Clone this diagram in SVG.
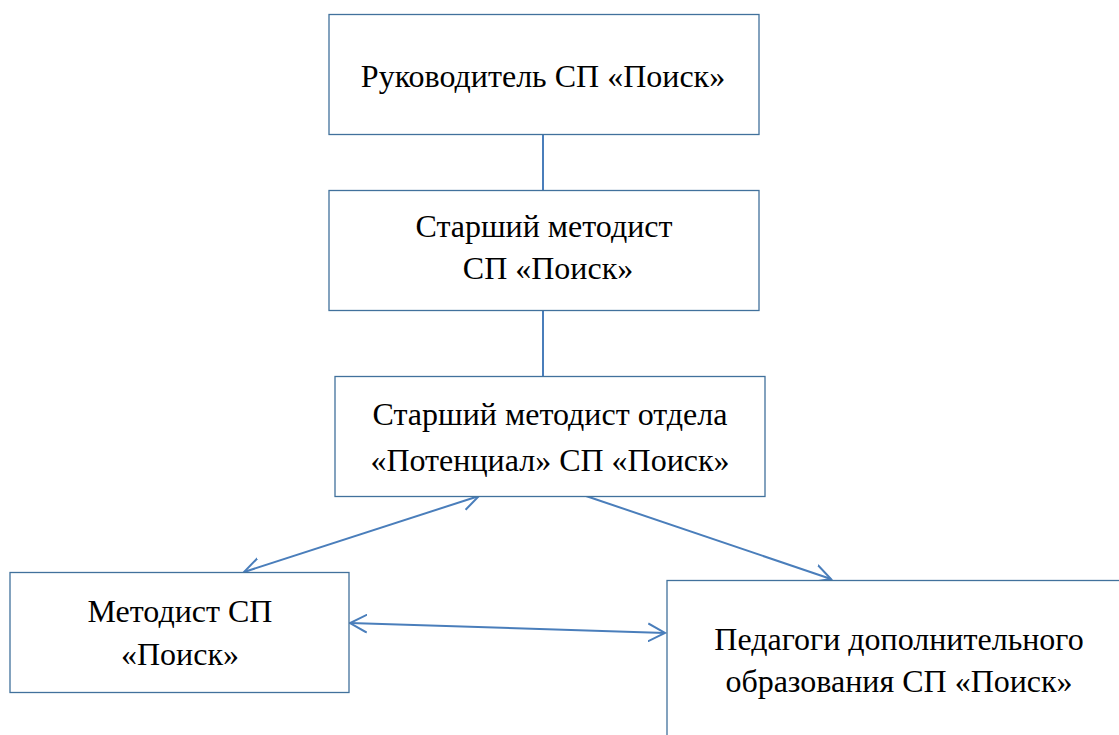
<svg xmlns="http://www.w3.org/2000/svg" width="1119" height="735" viewBox="0 0 1119 735">
<style>
.box{fill:#ffffff;stroke:#41719c;stroke-width:1.3}
.t{font-family:"Liberation Serif","Times New Roman",serif;font-size:32px;fill:#000;text-anchor:middle}
.c{stroke:#4a7ebb;stroke-width:2;fill:none}
</style>
<defs>
<marker id="ah" viewBox="0 0 20 20" refX="17" refY="10" markerWidth="20" markerHeight="20" markerUnits="userSpaceOnUse" orient="auto-start-reverse">
<path d="M0,1 L17,10 L0,19" fill="none" stroke="#4a7ebb" stroke-width="2"/>
</marker>
</defs>
<rect width="1119" height="735" fill="#ffffff"/>
<g id="connectors">
<line class="c" x1="543" y1="134" x2="543" y2="190"/>
<line class="c" x1="543" y1="310" x2="543" y2="376"/>
<line class="c" x1="479" y1="496" x2="244" y2="572" marker-start="url(#ah)" marker-end="url(#ah)"/>
<line class="c" x1="586" y1="496" x2="831" y2="579" marker-end="url(#ah)"/>
<line class="c" x1="350" y1="623" x2="665" y2="633" marker-start="url(#ah)" marker-end="url(#ah)"/>
</g>
<g id="n1">
<rect class="box" x="329" y="14.5" width="430" height="120"/>
<text class="t" x="543" y="87">Руководитель СП «Поиск»</text>
</g>
<g id="n2">
<rect class="box" x="329" y="190.5" width="430" height="120"/>
<text class="t" x="544" y="237">Старший методист</text>
<text class="t" x="548" y="279">СП «Поиск»</text>
</g>
<g id="n3">
<rect class="box" x="335" y="376.5" width="430" height="120"/>
<text class="t" x="550" y="425">Старший методист отдела</text>
<text class="t" x="550" y="471">«Потенциал» СП «Поиск»</text>
</g>
<g id="n4">
<rect class="box" x="10" y="572.5" width="339" height="120"/>
<text class="t" x="180" y="622">Методист СП</text>
<text class="t" x="180" y="665">«Поиск»</text>
</g>
<g id="n5">
<rect class="box" x="667" y="580.5" width="464" height="170"/>
<text class="t" x="899" y="650">Педагоги дополнительного</text>
<text class="t" x="899" y="692">образования СП «Поиск»</text>
</g>
</svg>
